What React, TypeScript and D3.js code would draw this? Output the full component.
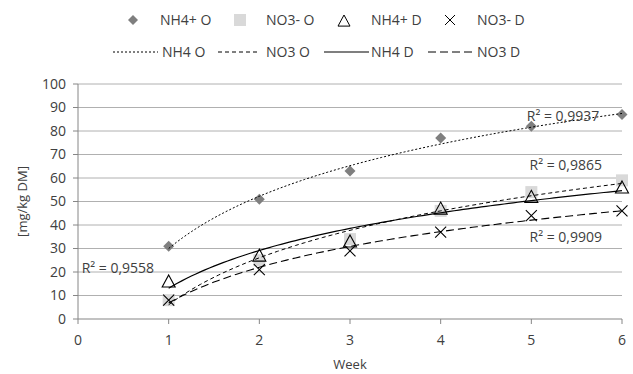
import React from "react";
import * as d3 from "d3";

const weeks = [1, 2, 3, 4, 5, 6];
const nh4O = [31, 51, 63, 77, 82, 87];
const no3O = [8, 25, 34, 46, 54, 59];
const nh4D = [16, 27, 33, 47, 52, 56];
const no3D = [8, 21, 29, 37, 44, 46];
const xTicks = [0, 1, 2, 3, 4, 5, 6];
const yTicks = [0, 10, 20, 30, 40, 50, 60, 70, 80, 90, 100];
const r2Labels = [
  { text: "R² = 0,9558", x: 0.04, y: 21.5 },
  { text: "R² = 0,9937", x: 4.95, y: 86.5 },
  { text: "R² = 0,9865", x: 4.98, y: 65.5 },
  { text: "R² = 0,9909", x: 4.98, y: 35 },
];

function logFit(xs: number[], ys: number[]) {
  const lx = xs.map((x) => Math.log(x));
  const mx = d3.mean(lx)!;
  const my = d3.mean(ys)!;
  let sxx = 0, sxy = 0;
  lx.forEach((v, i) => { sxx += (v - mx) ** 2; sxy += (v - mx) * (ys[i] - my); });
  const a = sxy / sxx;
  const b = my - a * mx;
  return (x: number) => a * Math.log(x) + b;
}

const FONT = "'Open Sans', 'Noto Sans', sans-serif";
const TXT = "#404040";

export default function App() {
  const W = 633, H = 374;
  const x = d3.scaleLinear().domain([0, 6]).range([78, 622]);
  const y = d3.scaleLinear().domain([0, 100]).range([319, 84]);

  const fine = d3.range(1, 6.001, 0.05);
  const mk = (ys: number[]) => {
    const f = logFit(weeks, ys);
    return d3.line<number>().x((v) => x(v)).y((v) => y(f(v)))(fine) || "";
  };

  const trends = [
    { ys: nh4O, dash: "2,2", w: 1 },
    { ys: no3O, dash: "4,3", w: 1 },
    { ys: nh4D, dash: "", w: 1.2 },
    { ys: no3D, dash: "8,4", w: 1.1 },
  ];

  const diamond = (cx: number, cy: number, s = 5.5) =>
    `M${cx},${cy - s}L${cx + s},${cy}L${cx},${cy + s}L${cx - s},${cy}Z`;
  const tri = (cx: number, cy: number, s = 6.5) =>
    `M${cx},${cy - s}L${cx + s},${cy + s * 0.85}L${cx - s},${cy + s * 0.85}Z`;
  const cross = (cx: number, cy: number, s = 5.5) =>
    `M${cx - s},${cy - s}L${cx + s},${cy + s}M${cx - s},${cy + s}L${cx + s},${cy - s}`;

  return (
    <svg width={W} height={H} style={{ position: "absolute", left: 0, top: 0, background: "#fff" }} fontFamily={FONT}>
      <rect width={W} height={H} fill="#fff" />
      {yTicks.filter((t) => t > 0).map((t) => (
        <line key={t} x1={x(0)} x2={x(6)} y1={y(t)} y2={y(t)} stroke="#b0b0b0" strokeWidth={1} />
      ))}
      <line x1={x(0)} x2={x(0)} y1={y(0)} y2={y(100)} stroke="#868686" strokeWidth={1} />
      <line x1={x(0)} x2={x(6)} y1={y(0)} y2={y(0)} stroke="#868686" strokeWidth={1.2} />
      {yTicks.map((t) => (
        <g key={t}>
          <line x1={x(0) - 5} x2={x(0)} y1={y(t)} y2={y(t)} stroke="#868686" />
          <text x={x(0) - 12} y={y(t)} dy="0.35em" textAnchor="end" fontSize={14} fill={TXT}>{t}</text>
        </g>
      ))}
      {xTicks.map((t) => (
        <g key={t}>
          <line x1={x(t)} x2={x(t)} y1={y(0)} y2={y(0) + 5} stroke="#868686" />
          <text x={x(t)} y={y(0) + 21} dy="0.35em" textAnchor="middle" fontSize={14} fill={TXT}>{t}</text>
        </g>
      ))}
      <text x={350} y={364} textAnchor="middle" fontSize={13} fill={TXT} dy="0.35em">Week</text>
      <text transform={`translate(22,${y(50)}) rotate(-90)`} textAnchor="middle" fontSize={13} fill={TXT} dy="0.35em">[mg/kg DM]</text>

      {weeks.map((w, i) => (
        <rect key={"s" + i} x={x(w) - 6} y={y(no3O[i]) - 6} width={12} height={12} fill="#d9d9d9" />
      ))}
      {weeks.map((w, i) => (
        <path key={"d" + i} d={diamond(x(w), y(nh4O[i]))} fill="#7f7f7f" />
      ))}
      {weeks.map((w, i) => (
        <path key={"t" + i} d={tri(x(w), y(nh4D[i]))} fill="none" stroke="#000" strokeWidth={1.1} />
      ))}
      {weeks.map((w, i) => (
        <path key={"c" + i} d={cross(x(w), y(no3D[i]))} fill="none" stroke="#000" strokeWidth={1.1} />
      ))}

      {trends.map((t, i) => (
        <path key={i} d={mk(t.ys)} fill="none" stroke="#000" strokeWidth={t.w} strokeDasharray={t.dash || undefined} />
      ))}

      {r2Labels.map((l, i) => (
        <text key={i} x={x(l.x)} y={y(l.y)} dy="0.35em" fontSize={14} fill={TXT}>{l.text}</text>
      ))}

      <g fontSize={14} fill={TXT}>
        <path d={diamond(133, 20, 5)} fill="#7f7f7f" />
        <text x={160} y={20} dy="0.35em">NH4+ O</text>
        <rect x={234} y={14} width={12} height={12} fill="#d9d9d9" />
        <text x={266} y={20} dy="0.35em">NO3- O</text>
        <path d={tri(344, 21, 6)} fill="none" stroke="#000" strokeWidth={1} />
        <text x={371} y={20} dy="0.35em">NH4+ D</text>
        <path d={cross(450, 20, 5)} fill="none" stroke="#000" strokeWidth={1} />
        <text x={477} y={20} dy="0.35em">NO3- D</text>
      </g>
      <g fontSize={14} fill={TXT}>
        <line x1={113} x2={158} y1={52} y2={52} stroke="#000" strokeDasharray="2,2" />
        <text x={162} y={52} dy="0.35em">NH4 O</text>
        <line x1={218} x2={258} y1={52} y2={52} stroke="#000" strokeDasharray="4,3" />
        <text x={266} y={52} dy="0.35em">NO3 O</text>
        <line x1={324} x2={369} y1={52} y2={52} stroke="#000" strokeWidth={1.2} />
        <text x={371} y={52} dy="0.35em">NH4 D</text>
        <line x1={428} x2={473} y1={52} y2={52} stroke="#000" strokeDasharray="8,4" />
        <text x={477} y={52} dy="0.35em">NO3 D</text>
      </g>
    </svg>
  );
}
